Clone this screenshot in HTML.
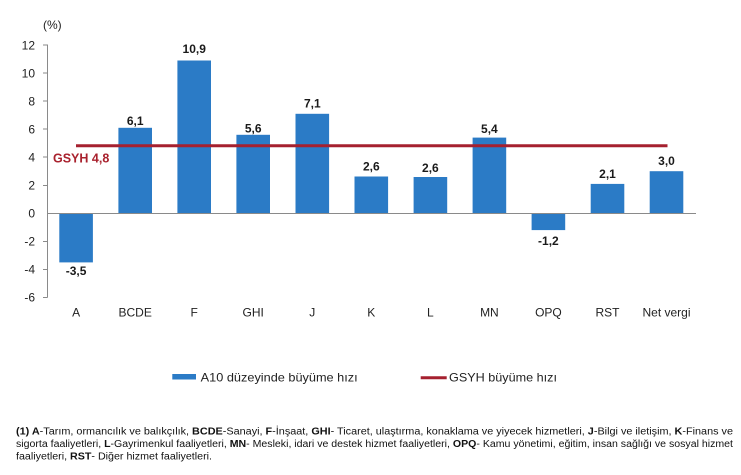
<!DOCTYPE html>
<html><head><meta charset="utf-8"><style>
html,body{margin:0;padding:0;background:#fff;}
svg{display:block;font-family:"Liberation Sans",Arial,sans-serif;}
</style></head><body>
<svg width="741" height="475" viewBox="0 0 741 475" xmlns="http://www.w3.org/2000/svg">
<rect width="741" height="475" fill="#fff"/>
<text x="43" y="29" font-size="12" fill="#222">(%)</text>
<!-- y axis -->
<line x1="47.5" y1="44.5" x2="47.5" y2="297.5" stroke="#8a8a8a" stroke-width="1"/>
<g stroke="#8a8a8a" stroke-width="1">
<line x1="43" y1="45" x2="47.5" y2="45"/>
<line x1="43" y1="73" x2="47.5" y2="73"/>
<line x1="43" y1="101" x2="47.5" y2="101"/>
<line x1="43" y1="129" x2="47.5" y2="129"/>
<line x1="43" y1="157" x2="47.5" y2="157"/>
<line x1="43" y1="185.5" x2="47.5" y2="185.5"/>
<line x1="43" y1="241.5" x2="47.5" y2="241.5"/>
<line x1="43" y1="269.5" x2="47.5" y2="269.5"/>
<line x1="43" y1="297.5" x2="47.5" y2="297.5"/>
</g>
<g font-size="12" fill="#222" text-anchor="end">
<text x="35" y="49.5">12</text>
<text x="35" y="77.5">10</text>
<text x="35" y="105.5">8</text>
<text x="35" y="133.5">6</text>
<text x="35" y="161.5">4</text>
<text x="35" y="189.5">2</text>
<text x="35" y="217.5">0</text>
<text x="35" y="245.5">-2</text>
<text x="35" y="273.5">-4</text>
<text x="35" y="301.5">-6</text>
</g>
<!-- bars -->
<g fill="#2b7bc6">
<rect x="59.3" y="213.3" width="33.6" height="49.1"/>
<rect x="118.4" y="127.8" width="33.6" height="85.5"/>
<rect x="177.4" y="60.5" width="33.6" height="152.8"/>
<rect x="236.4" y="134.8" width="33.6" height="78.5"/>
<rect x="295.5" y="113.8" width="33.6" height="99.5"/>
<rect x="354.5" y="176.5" width="33.6" height="36.8"/>
<rect x="413.6" y="177" width="33.6" height="36.3"/>
<rect x="472.6" y="137.6" width="33.6" height="75.7"/>
<rect x="531.6" y="213.3" width="33.6" height="16.8"/>
<rect x="590.7" y="183.9" width="33.6" height="29.4"/>
<rect x="649.7" y="171.2" width="33.6" height="42.1"/>
</g>
<!-- zero line -->
<line x1="47.5" y1="213.5" x2="696" y2="213.5" stroke="#8a8a8a" stroke-width="1"/>
<!-- GSYH line -->
<line x1="76" y1="145.7" x2="667.5" y2="145.7" stroke="#a5202f" stroke-width="3"/>
<text x="53" y="162.5" font-size="12.5" font-weight="bold" fill="#a9222e">GSYH 4,8</text>
<!-- value labels -->
<g font-size="12" font-weight="bold" fill="#1a1a1a" text-anchor="middle">
<text x="76.1" y="275">-3,5</text>
<text x="135.2" y="125">6,1</text>
<text x="194.2" y="53">10,9</text>
<text x="253.2" y="132.5">5,6</text>
<text x="312.3" y="107.5">7,1</text>
<text x="371.3" y="170.5">2,6</text>
<text x="430.4" y="172">2,6</text>
<text x="489.4" y="133">5,4</text>
<text x="548.4" y="245">-1,2</text>
<text x="607.5" y="178">2,1</text>
<text x="666.5" y="165">3,0</text>
</g>
<!-- category labels -->
<g font-size="12" fill="#222" text-anchor="middle">
<text x="76.1" y="316.5">A</text>
<text x="135.2" y="316.5">BCDE</text>
<text x="194.2" y="316.5">F</text>
<text x="253.2" y="316.5">GHI</text>
<text x="312.3" y="316.5">J</text>
<text x="371.3" y="316.5">K</text>
<text x="430.4" y="316.5">L</text>
<text x="489.4" y="316.5">MN</text>
<text x="548.4" y="316.5">OPQ</text>
<text x="607.5" y="316.5">RST</text>
<text x="666.5" y="316.5">Net vergi</text>
</g>
<!-- legend -->
<rect x="172.3" y="374" width="23.7" height="5.5" fill="#2b7bc6"/>
<text x="200.7" y="381.5" font-size="12" fill="#222" textLength="157" lengthAdjust="spacingAndGlyphs">A10 düzeyinde büyüme hızı</text>
<line x1="420.7" y1="377.7" x2="446.7" y2="377.7" stroke="#a5202f" stroke-width="3"/>
<text x="449" y="381.5" font-size="12" fill="#222" textLength="108" lengthAdjust="spacingAndGlyphs">GSYH büyüme hızı</text>
<!-- footnote -->
<g font-size="10" fill="#111">
<text x="16" y="434.5" textLength="717" lengthAdjust="spacingAndGlyphs"><tspan font-weight="bold">(1) A</tspan>-Tarım, ormancılık ve balıkçılık, <tspan font-weight="bold">BCDE</tspan>-Sanayi, <tspan font-weight="bold">F</tspan>-İnşaat, <tspan font-weight="bold">GHI</tspan>- Ticaret, ulaştırma, konaklama ve yiyecek hizmetleri, <tspan font-weight="bold">J</tspan>-Bilgi ve iletişim, <tspan font-weight="bold">K</tspan>-Finans ve</text>
<text x="16" y="447" textLength="717" lengthAdjust="spacingAndGlyphs">sigorta faaliyetleri, <tspan font-weight="bold">L</tspan>-Gayrimenkul faaliyetleri, <tspan font-weight="bold">MN</tspan>- Mesleki, idari ve destek hizmet faaliyetleri, <tspan font-weight="bold">OPQ</tspan>- Kamu yönetimi, eğitim, insan sağlığı ve sosyal hizmet</text>
<text x="16" y="459.5" textLength="196" lengthAdjust="spacingAndGlyphs">faaliyetleri, <tspan font-weight="bold">RST</tspan>- Diğer hizmet faaliyetleri.</text>
</g>
</svg>
</body></html>
